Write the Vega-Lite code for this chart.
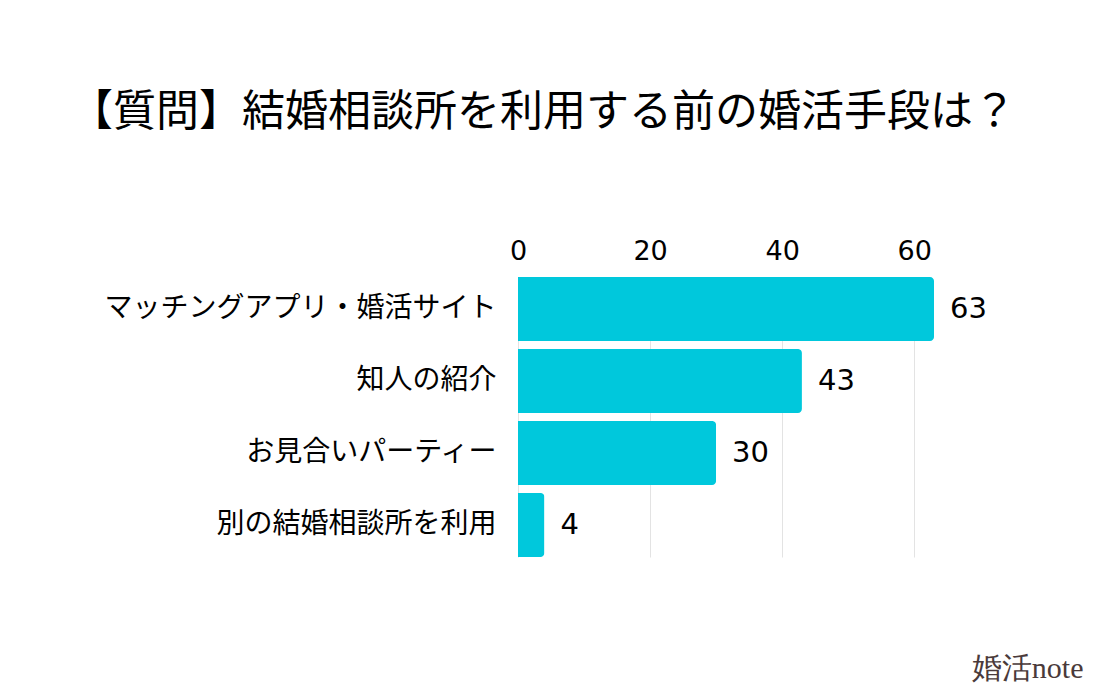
{
  "$schema": "https://vega.github.io/schema/vega-lite/v6.json",
  "width": 416,
  "height": 280,
  "padding": {"left": 70, "top": 92, "right": 5, "bottom": 5},
  "background": "white",
  "title": {
    "text": "【質問】結婚相談所を利用する前の婚活手段は？",
    "font": "Noto Sans CJK JP",
    "fontSize": 43,
    "fontWeight": "normal",
    "color": "#000000",
    "anchor": "middle",
    "offset": 102,
    "dx": -183
  },
  "data": {
    "values": [
      {"item": "マッチングアプリ・婚活サイト", "value": 63},
      {"item": "知人の紹介", "value": 43},
      {"item": "お見合いパーティー", "value": 30},
      {"item": "別の結婚相談所を利用", "value": 4}
    ]
  },
  "encoding": {
    "y": {
      "field": "item",
      "type": "nominal",
      "sort": null,
      "scale": {"paddingInner": 0.11, "paddingOuter": 0},
      "axis": {
        "title": null,
        "domain": false,
        "ticks": false,
        "labelFont": "Noto Sans CJK JP",
        "labelFontSize": 28,
        "labelColor": "#000000",
        "labelPadding": 22,
        "labelLimit": 600
      }
    }
  },
  "layer": [
    {
      "mark": {"type": "bar", "color": "#00C8DC", "cornerRadiusEnd": 4},
      "encoding": {
        "x": {
          "field": "value",
          "type": "quantitative",
          "scale": {"domain": [0, 63], "nice": false},
          "axis": {
            "orient": "top",
            "title": null,
            "values": [0, 20, 40, 60],
            "domain": false,
            "ticks": false,
            "grid": true,
            "gridColor": "#e3e3e3",
            "labelFont": "DejaVu Sans",
            "labelFontSize": 27,
            "labelColor": "#000000",
            "labelPadding": 12,
            "labelFlush": false
          }
        }
      }
    },
    {
      "mark": {"type": "text", "align": "left", "dx": 16, "font": "DejaVu Sans", "fontSize": 29, "color": "#000000"},
      "encoding": {
        "x": {
          "field": "value",
          "type": "quantitative",
          "axis": {
            "orient": "bottom",
            "title": "婚活note",
            "labels": false,
            "domain": false,
            "ticks": false,
            "grid": false,
            "titleFont": "Liberation Serif",
            "titleFontSize": 30,
            "titleFontWeight": "normal",
            "titleColor": "#4a3a3a",
            "titleAlign": "right",
            "titleAnchor": "end",
            "titleX": 565,
            "titleY": 96
          }
        },
        "text": {"field": "value", "type": "quantitative"}
      }
    }
  ],
  "resolve": {"axis": {"x": "independent"}},
  "config": {"view": {"stroke": null}}
}
